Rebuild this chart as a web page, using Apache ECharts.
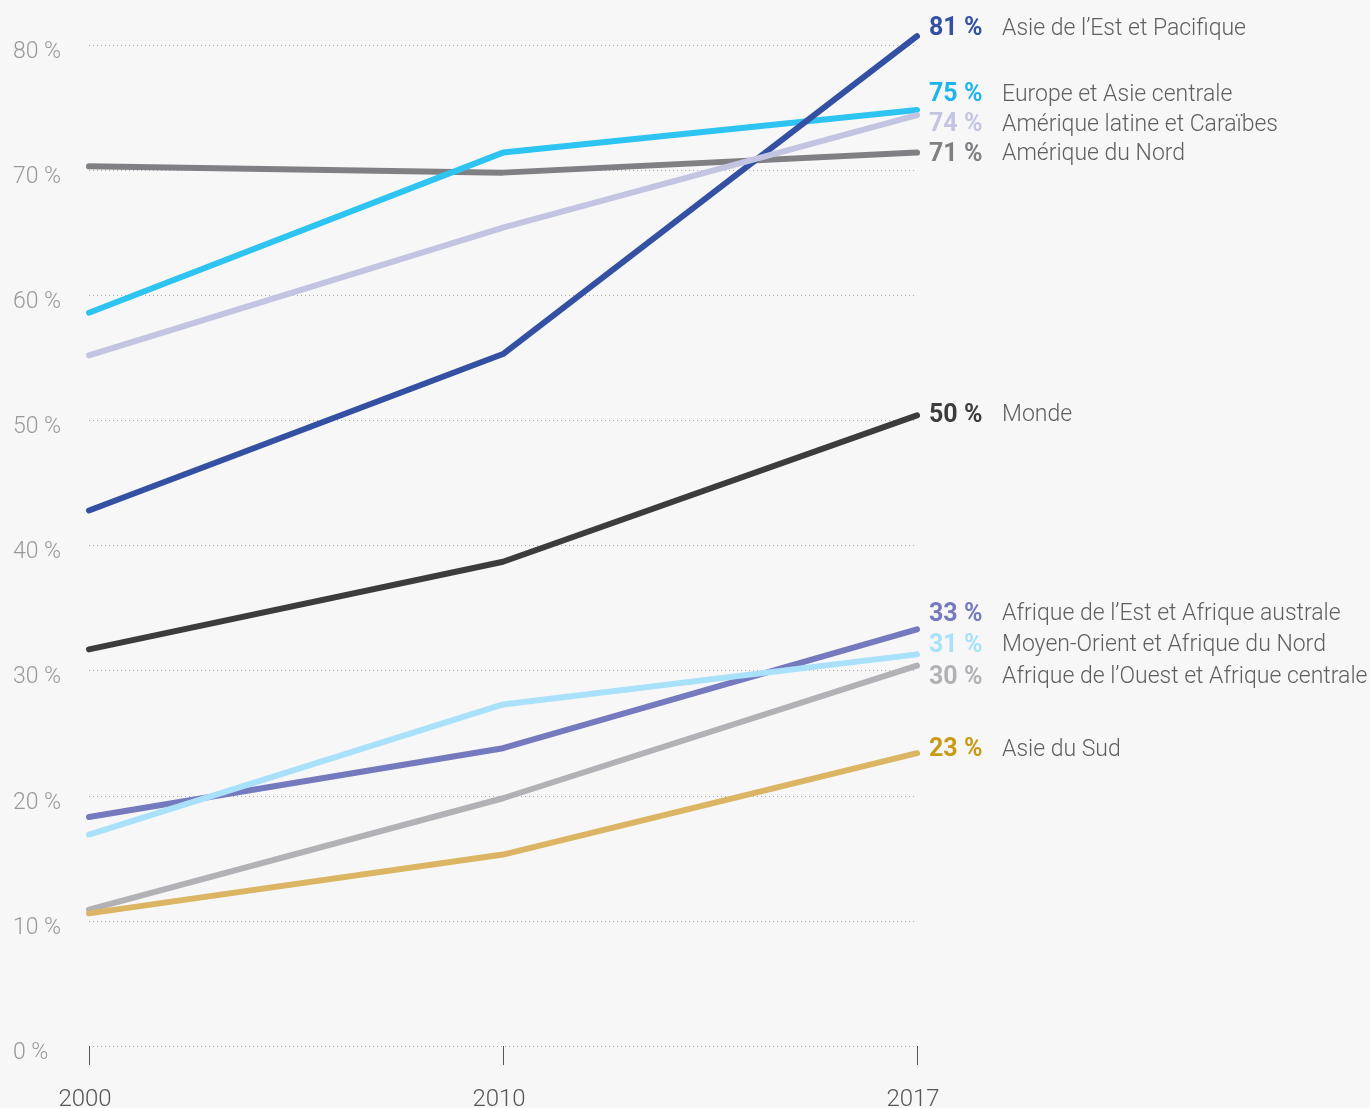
<!DOCTYPE html>
<html>
<head>
<meta charset="utf-8">
<script src="https://cdn.jsdelivr.net/npm/echarts@6/dist/echarts.min.js"></script>
<style>
html,body{margin:0;padding:0;background:#f7f7f7;}
#chart{width:1370px;height:1108px;}
</style>
</head>
<body>
<div id="chart"></div>
<script>
const years = ['2000', '2010', '2017'];

const amNord   = [70.3, 69.8, 71.4];
const europe   = [58.6, 71.4, 74.8];
const asieEst  = [42.8, 55.3, 80.7];
const amLatine = [55.2, 65.4, 74.4];
const monde    = [31.7, 38.7, 50.4];
const afrEst   = [18.3, 23.8, 33.3];
const moyenOr  = [16.9, 27.3, 31.3];
const afrOuest = [10.9, 19.8, 30.4];
const asieSud  = [10.6, 15.3, 23.4];

const yTicks = { min: 0, max: 80, interval: 10 };

function mk(name, data, lineColor, valColor, dy) {
  return {
    name: name,
    type: 'line',
    data: data,
    showSymbol: false,
    symbol: 'none',
    silent: true,
    clip: false,
    lineStyle: { color: lineColor, width: 6, cap: 'round', join: 'round' },
    endLabel: {
      show: true,
      distance: 12,
      offset: [0, dy],
      formatter: function (p) {
        return '{v|' + Math.round(p.value) + ' %}{n|' + name + '}';
      },
      rich: {
        v: { color: valColor, fontFamily: 'Roboto', fontWeight: 'bold', fontSize: 25, width: 59 },
        n: { color: '#5f5f5f', fontFamily: 'Roboto', fontWeight: 300, fontSize: 23, padding: [0, 0, 0, 14] }
      }
    }
  };
}

const chart = echarts.init(document.getElementById('chart'));
chart.setOption({
  animation: false,
  backgroundColor: '#f7f7f7',
  grid: { left: 89, right: 453, top: 45, bottom: 62, containLabel: false, outerBoundsMode: 'none' },
  xAxis: {
    type: 'category',
    data: years,
    boundaryGap: false,
    axisLine: { show: false },
    axisTick: { show: true, length: 19, lineStyle: { color: '#555', width: 1 } },
    axisLabel: {
      margin: 42,
      formatter: '{a|{value}}',
      rich: { a: { color: '#555', fontFamily: 'Roboto', fontWeight: 300, fontSize: 24, padding: [0, 8, 0, 0] } }
    },
    splitLine: { show: false }
  },
  yAxis: {
    type: 'value',
    min: yTicks.min, max: yTicks.max, interval: yTicks.interval,
    axisLine: { show: false },
    axisTick: { show: false },
    axisLabel: {
      color: '#999', fontFamily: 'Roboto', fontWeight: 300, fontSize: 23, align: 'left', margin: 76,
      verticalAlign: 'top', lineHeight: 14,
      formatter: '{value} %'
    },
    splitLine: { show: true, lineStyle: { color: '#aaa', type: [1, 3], width: 1 } }
  },
  series: [
    mk('Amérique du Nord', amNord, '#808084', '#808084', 2),
    mk('Europe et Asie centrale', europe, '#2ec4f2', '#1eb5ef', -15),
    mk('Asie de l\u2019Est et Pacifique', asieEst, '#3350a3', '#3350a3', -7),
    mk('Amérique latine et Caraïbes', amLatine, '#c3c3e2', '#c3c3e2', 10),
    mk('Monde', monde, '#3c3c3c', '#3c3c3c', 0),
    mk('Afrique de l\u2019Est et Afrique australe', afrEst, '#7579be', '#7579be', -15),
    mk('Moyen-Orient et Afrique du Nord', moyenOr, '#a9e1fa', '#a9e1fa', -9),
    mk('Afrique de l\u2019Ouest et Afrique centrale', afrOuest, '#b2b2b6', '#b2b2b6', 12),
    mk('Asie du Sud', asieSud, '#dbb563', '#c99a14', -3)
  ]
});
</script>
</body>
</html>
